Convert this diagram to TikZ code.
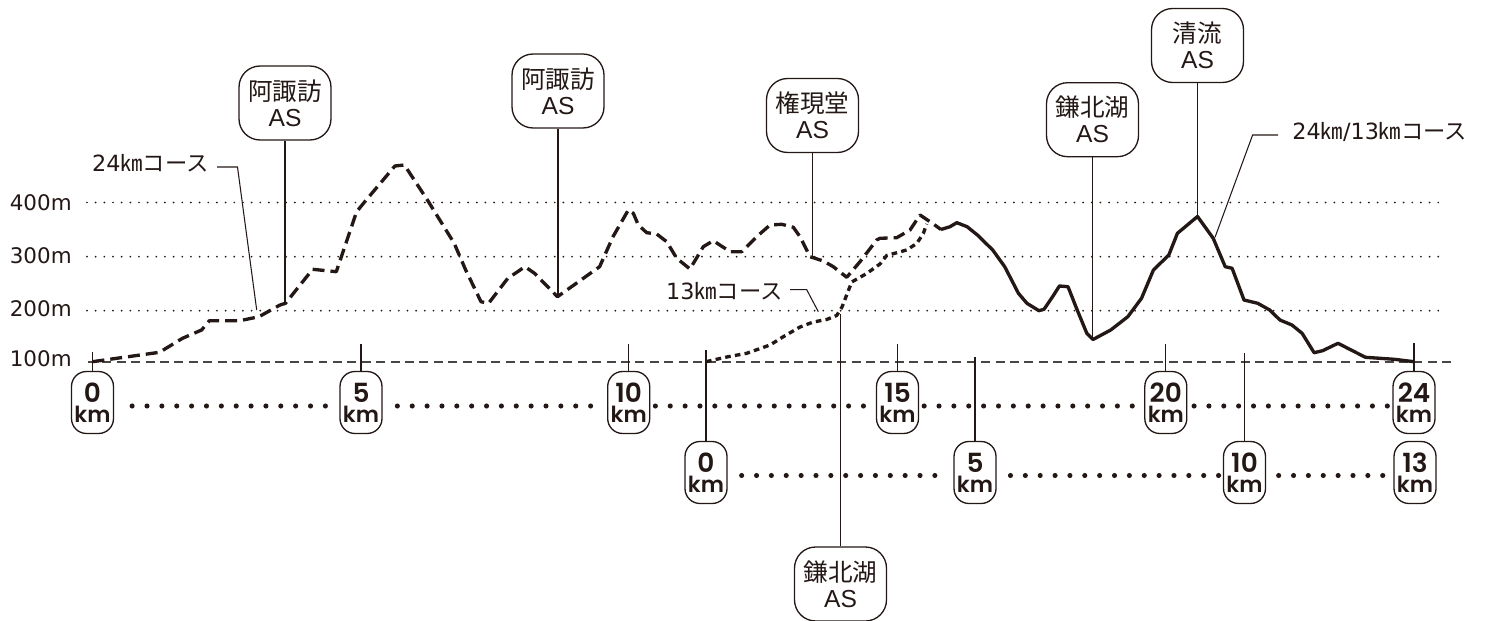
\documentclass[tikz,border=0pt]{standalone}
\usepackage{fontspec}
\setmainfont{DejaVu Sans}
\newfontfamily\cjk{Noto Sans CJK JP}
\newfontfamily\lat{Liberation Sans}
\newfontfamily\kmf{Poppins}[BoldFont={Poppins SemiBold}]
\usetikzlibrary{calc}
\definecolor{ink}{HTML}{231815}
\definecolor{gridgray}{HTML}{4A4545}
\newcommand\kmlab[1]{{\fontsize{15}{11.4}\selectfont #1}\\{\fontsize{12.6}{11.4}\selectfont km}}
\newcommand\aslab[1]{{\cjk #1}\\{\lat AS}}
\tikzset{
  asbox/.style={draw=ink, line width=0.75pt, rounded corners=12pt, minimum width=1.84cm,
    minimum height=1.48cm, inner sep=0pt, align=center, text=ink, fill=white,
    font=\fontsize{14}{14.8}\selectfont},
  kmbox/.style={draw=ink, line width=0.75pt, rounded corners=8.5pt, minimum width=0.84cm,
    minimum height=1.24cm, inner sep=0pt, align=center, text=ink, fill=white,
    font=\kmf\bfseries\fontsize{15}{11.4}\selectfont},
  leader/.style={draw=ink, line width=0.6pt},
  tickline/.style={draw=ink, line width=0.75pt},
  course24/.style={draw=ink, line width=1.9pt, dash pattern=on 6.8pt off 3.4pt, line join=round},
  course13/.style={draw=ink, line width=1.9pt, dash pattern=on 3.2pt off 2.4pt, line join=round},
  coursesolid/.style={draw=ink, line width=1.9pt, line join=round},
  gridline/.style={draw=ink, line width=1.1pt, line cap=round, dash pattern=on 0pt off 4.93pt},
  baseline100/.style={draw=gridgray, line width=0.8pt, dash pattern=on 5.1pt off 3.1pt},
  bigdots/.style={draw=ink, line width=2.9pt, line cap=round, dash pattern=on 0pt off 8.46pt},
  ylab/.style={anchor=base east, inner sep=0pt, text=ink, font=\fontsize{12.2}{12}\selectfont},
  clabel/.style={inner sep=0pt, text=ink, font=\fontsize{12.7}{12}\selectfont},
}
\begin{document}
\begin{tikzpicture}[x=0.02cm,y=-0.02cm]
\useasboundingbox (0,0) rectangle (1486,621);

% ---- grid lines and axis labels
\coordinate (g4a) at (87,202.5);  \coordinate (g4b) at (1439,202.5);
\coordinate (g3a) at (87,256.7);  \coordinate (g3b) at (1439,256.7);
\coordinate (g2a) at (87,310.7);  \coordinate (g2b) at (1439,310.7);
\coordinate (g1a) at (88,362);    \coordinate (g1b) at (1456,362);
\draw[gridline] (g4a) -- (g4b);
\draw[gridline] (g3a) -- (g3b);
\draw[gridline] (g2a) -- (g2b);
\draw[baseline100] (g1a) -- (g1b);
\node[ylab] (l400) at (72,210.5) {400m};
\node[ylab] (l300) at (72,264) {300m};
\node[ylab] (l200) at (72,316.5) {200m};
\node[ylab] (l100) at (72,366) {100m};

% ---- elevation profiles
\draw[course24] plot coordinates {(92.5,361.7) (159.5,352.3) (182.5,338.3) (201.6,330)
 (209.3,320.7) (239.9,320.7) (259,316.7) (280,305) (285.5,303.3) (312.6,269.3)
 (336.3,271.7) (356.6,211.7) (366.2,200) (394.9,166) (404.4,165) (427.4,200)
 (454.2,243.3) (465.7,270) (481,301.7) (488.6,303.3) (507.8,278.3) (525,266.7)
 (534.5,273.3) (557.5,296.7) (599.6,266.7) (613,236.7) (628.3,210) (633.3,213.3)
 (638.3,225) (646.7,232.7) (656.7,234) (666.7,241.7) (676.7,258.3) (690,269)
 (703.3,246.7) (713.3,240.7) (730,251.7) (741.7,251.7) (756.7,236.7) (770,225)
 (781.7,224.3) (793.3,227.3) (800,236.7) (810,256.7) (823.3,261) (833.3,266.7)
 (846.7,277.3) (860,261.7) (876.7,240) (880,238.3) (896.7,237.7) (910,230)
 (920,215) (930,221.7) (941,229.5)};
\draw[course13] plot coordinates {(706,361.7) (726.7,357) (746.7,353.3) (770,345)
 (783.3,336.7) (800,327) (813.3,322) (826.7,319.5) (836.7,315.5) (842,307)
 (851.7,282) (866.7,273.5) (880,264) (886.7,255.5) (906.7,250) (916.7,243.5)
 (923.3,233.5) (926.7,224)};
\draw[coursesolid] plot coordinates {(941,229.5) (950,226.7) (956.8,222.7) (967.1,226.7)
 (977.4,235) (992.7,250) (1004.7,266.7) (1018.4,293.3) (1026.9,303.3) (1038.9,310.7)
 (1044,309.3) (1052.6,296.7) (1059.4,286) (1068,286.7) (1076.5,308.3) (1086.8,333.3)
 (1093,339.5) (1110.7,330) (1127.8,316.7) (1141.5,298.3) (1153.4,270) (1168.8,255)
 (1177.4,233.3) (1197.5,216.5) (1213.2,238.3) (1225.2,266.7) (1232.1,268.3)
 (1244,300) (1257.7,303.3) (1269.7,310) (1279.9,320) (1291.9,325) (1302.1,333.3)
 (1314.1,352.7) (1322.6,350.7) (1338,343.3) (1365.4,357.3) (1394.4,359.3) (1414,361.7)};

% ---- course labels
\node[clabel,anchor=east] (c24) at (209,163) {24{\cjk ㎞コース}};
\coordinate (c24p) at (256.7,310);
\draw[leader] ($(c24.east)+(8,4)$) -- ++(20.5,0) -- (c24p);
\node[clabel,anchor=east] (c13) at (783,291.7) {13{\cjk ㎞コース}};
\coordinate (c13p) at (818.3,311.7);
\draw[leader] ($(c13.east)+(7,-2)$) -- ++(16.7,0) -- (c13p);
\node[clabel,anchor=west] (c2413) at (1292,131.7) {24{\cjk ㎞}/13{\cjk ㎞コース}};
\coordinate (c2413p) at (1215,237.3);
\draw[leader] ($(c2413.west)+(-14,3.3)$) -- ++(-25.4,0) -- (c2413p);

% ---- aid station callouts
\node[asbox] (as1) at (285,103) {\aslab{阿諏訪}};
\node[asbox] (as2) at (558,91) {\aslab{阿諏訪}};
\node[asbox] (as3) at (812.5,115.5) {\aslab{権現堂}};
\node[asbox] (as4) at (1092.5,119.7) {\aslab{鎌北湖}};
\node[asbox] (as5) at (1197.5,45.5) {\aslab{清流}};
\node[asbox] (asb) at (840.5,584) {\aslab{鎌北湖}};
\coordinate (pas1) at (285,303.3);
\coordinate (pas2) at (558,296);
\coordinate (pas3) at (812.5,256.5);
\coordinate (pas4) at (1092.5,339);
\coordinate (pas5) at (1197.5,216.5);
\coordinate (pasb) at (840.5,314);
\draw[leader] (as1.south) -- (pas1);
\draw[leader] (as2.south) -- (pas2);
\draw[leader] (as3.south) -- (pas3);
\draw[leader] (as4.south) -- (pas4);
\draw[leader] (as5.south) -- (pas5);
\draw[leader] (asb.north) -- (pasb);

% ---- distance markers, 24 km course
\node[kmbox] (a0)  at (92.5,402.5)  {\kmlab{0}};
\node[kmbox] (a5)  at (361,402.5)   {\kmlab{5}};
\node[kmbox] (a10) at (628.7,402.5) {\kmlab{10}};
\node[kmbox] (a15) at (897.5,402.5) {\kmlab{15}};
\node[kmbox] (a20) at (1165.8,402.5){\kmlab{20}};
\node[kmbox] (a24) at (1414,402.5)  {\kmlab{24}};
\coordinate (ta0) at (92.5,352);
\coordinate (ta5) at (361,344);
\coordinate (ta10) at (628.7,344);
\coordinate (ta15) at (897.5,344);
\coordinate (ta20) at (1165.8,344);
\coordinate (ta24) at (1414,342.7);
\draw[tickline] (a0.north) -- (ta0);
\draw[tickline] (a5.north) -- (ta5);
\draw[tickline] (a10.north) -- (ta10);
\draw[tickline] (a15.north) -- (ta15);
\draw[tickline] (a20.north) -- (ta20);
\draw[tickline] (a24.north) -- (ta24);
\draw[bigdots] ($(a0.east)+(18,3.5)$) -- ($(a5.west)+(-4,3.5)$);
\draw[bigdots] ($(a5.east)+(14.7,3.5)$) -- ($(a10.west)+(-4,3.5)$);
\draw[bigdots] ($(a10.east)+(5,3.5)$) -- ($(a15.west)+(-4,3.5)$);
\draw[bigdots] ($(a15.east)+(5,3.5)$) -- ($(a20.west)+(-4,3.5)$);
\draw[bigdots] ($(a20.east)+(6.6,3.5)$) -- ($(a24.west)+(-4,3.5)$);

% ---- distance markers, 13 km course
\node[kmbox] (b0)  at (706,472.5)    {\kmlab{0}};
\node[kmbox] (b5)  at (975,472.5)    {\kmlab{5}};
\node[kmbox] (b10) at (1244.5,472.5) {\kmlab{10}};
\node[kmbox] (b13) at (1415,472.5)   {\kmlab{13}};
\coordinate (tb0) at (706,350);
\coordinate (tb5) at (975,357);
\coordinate (tb10) at (1244.5,353);
\draw[tickline] (b0.north) -- (tb0);
\draw[tickline] (b5.north) -- (tb5);
\draw[tickline] (b10.north) -- (tb10);
\draw[bigdots] ($(b0.east)+(14,3)$) -- ($(b5.west)+(-4,3)$);
\draw[bigdots] ($(b5.east)+(13.8,3)$) -- ($(b10.west)+(-4,3)$);
\draw[bigdots] ($(b10.east)+(12.5,3)$) -- ($(b13.west)+(-4,3)$);
\end{tikzpicture}
\end{document}
